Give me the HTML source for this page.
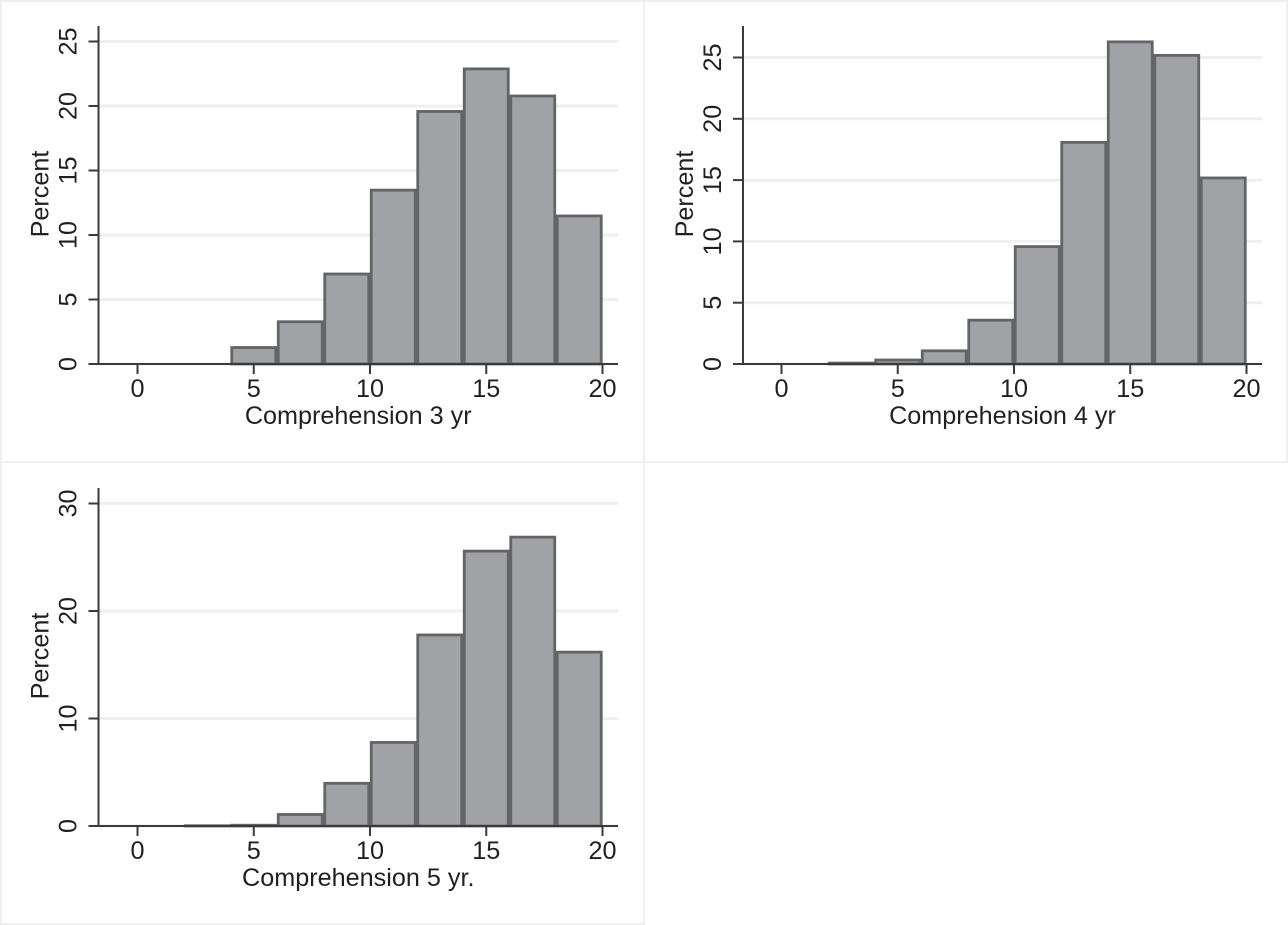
<!DOCTYPE html>
<html>
<head>
<meta charset="utf-8">
<title>Comprehension histograms</title>
<style>
html,body{margin:0;padding:0;background:#fff;}
svg{display:block;}
text{font-family:"Liberation Sans",Arial,sans-serif;fill:#231f20;}
</style>
</head>
<body>
<svg id="chart" xmlns="http://www.w3.org/2000/svg" width="1288" height="925" viewBox="0 0 1288 925"></svg>
<script>
const binEdgeStart3 = 4;
const binEdgeStart4 = 2;
const binEdgeStart5 = 2;
const binWidth = 2;
const percent3 = [1.3, 3.3, 7.0, 13.5, 19.6, 22.9, 20.8, 11.5];
const percent4 = [0.1, 0.35, 1.1, 3.6, 9.6, 18.1, 26.3, 25.2, 15.2];
const percent5 = [0.05, 0.1, 1.1, 4.0, 7.8, 17.8, 25.6, 26.9, 16.2];
const xTicks = [0, 5, 10, 15, 20];
const yTicks3 = [0, 5, 10, 15, 20, 25];
const yTicks4 = [0, 5, 10, 15, 20, 25];
const yTicks5 = [0, 10, 20, 30];
const title3 = "Comprehension 3 yr";
const title4 = "Comprehension 4 yr";
const title5 = "Comprehension 5 yr.";

const NS = "http://www.w3.org/2000/svg";
const svg = document.getElementById("chart");
const FONT = 25.2;
const BAR_STROKE = 2.8;

function mk(parent, tag, attrs, txt) {
  const e = document.createElementNS(NS, tag);
  for (const k in attrs) e.setAttribute(k, attrs[k]);
  if (txt !== undefined) e.textContent = txt;
  parent.appendChild(e);
  return e;
}

function frameLine(x, y, w, h) {
  const r = mk(svg, "rect", {x: x, y: y, width: w, height: h, fill: "#efefef"});
  
  
}

frameLine(0, 0, 1288, 2);
frameLine(0, 0, 2, 925);
frameLine(643, 0, 2, 925);
frameLine(1286, 0, 2, 463);
frameLine(0, 461, 1288, 2);
frameLine(0, 923, 645, 2);

function drawPanel(p) {
  const g = mk(svg, "g", {});
  
  
  const sx = v => p.x0 + v * p.xScale;
  const sy = v => p.y0 - v * p.yScale;

  p.yTicks.forEach(t => {
    const grid = mk(g, "line", {x1: p.left + 1, x2: p.right, y1: sy(t), y2: sy(t), stroke: "#efefef", "stroke-width": 3});
    
    
  });

  p.values.forEach((v, i) => {
    const lo = p.start + i * binWidth;
    const inset = 1.25;
    const barTop = Math.min(sy(v) + 0.3, p.y0);
    const bar = mk(g, "rect", {
      x: sx(lo) + inset, y: barTop,
      width: sx(lo + binWidth) - sx(lo) - 2 * inset,
      height: Math.max(0.01, p.y0 - barTop),
      fill: "#a0a2a5", stroke: "#636466", "stroke-width": BAR_STROKE
    });
    
    
  });

  const yAxis = mk(g, "line", {x1: p.left, x2: p.left, y1: p.top, y2: p.y0, stroke: "#3a3a3c", "stroke-width": 2});
  
  
  const xAxis = mk(g, "line", {x1: p.left - 1, x2: p.right, y1: p.y0, y2: p.y0, stroke: "#3a3a3c", "stroke-width": 2});
  
  

  p.yTicks.forEach(t => {
    const tick = mk(g, "line", {x1: p.left - 10, x2: p.left, y1: sy(t), y2: sy(t), stroke: "#3a3a3c", "stroke-width": 2});
    
    
    const lx = p.left - 22;
    const lab = mk(g, "text", {x: lx, y: sy(t), "font-size": FONT, "text-anchor": "middle", transform: "rotate(-90 " + lx + " " + sy(t) + ")"}, String(t));
    
    
  });

  xTicks.forEach(t => {
    const tick = mk(g, "line", {x1: sx(t), x2: sx(t), y1: p.y0, y2: p.y0 + 10, stroke: "#3a3a3c", "stroke-width": 2});
    
    
    const lab = mk(g, "text", {x: sx(t), y: p.y0 + 33, "font-size": FONT, "text-anchor": "middle"}, String(t));
    
    
  });

  const xt = mk(g, "text", {x: (p.left + p.right) / 2, y: p.y0 + 60, "font-size": FONT, "text-anchor": "middle"}, p.title);
  
  

  const tx = p.left - 50;
  const ty = (p.top + p.y0) / 2 - 1;
  const yt = mk(g, "text", {x: tx, y: ty, "font-size": FONT, "text-anchor": "middle", transform: "rotate(-90 " + tx + " " + ty + ")"}, "Percent");
  
  
}

drawPanel({name: "panel-comprehension-3yr", values: percent3, start: binEdgeStart3, yTicks: yTicks3, title: title3,
  x0: 137.5, xScale: 23.25, y0: 364, yScale: 12.9, left: 98.5, right: 618, top: 26});
drawPanel({name: "panel-comprehension-4yr", values: percent4, start: binEdgeStart4, yTicks: yTicks4, title: title4,
  x0: 781.5, xScale: 23.25, y0: 364, yScale: 12.26, left: 743, right: 1262, top: 26});
drawPanel({name: "panel-comprehension-5yr", values: percent5, start: binEdgeStart5, yTicks: yTicks5, title: title5,
  x0: 137.5, xScale: 23.25, y0: 826, yScale: 10.75, left: 98.5, right: 618, top: 488});
</script>
</body>
</html>
